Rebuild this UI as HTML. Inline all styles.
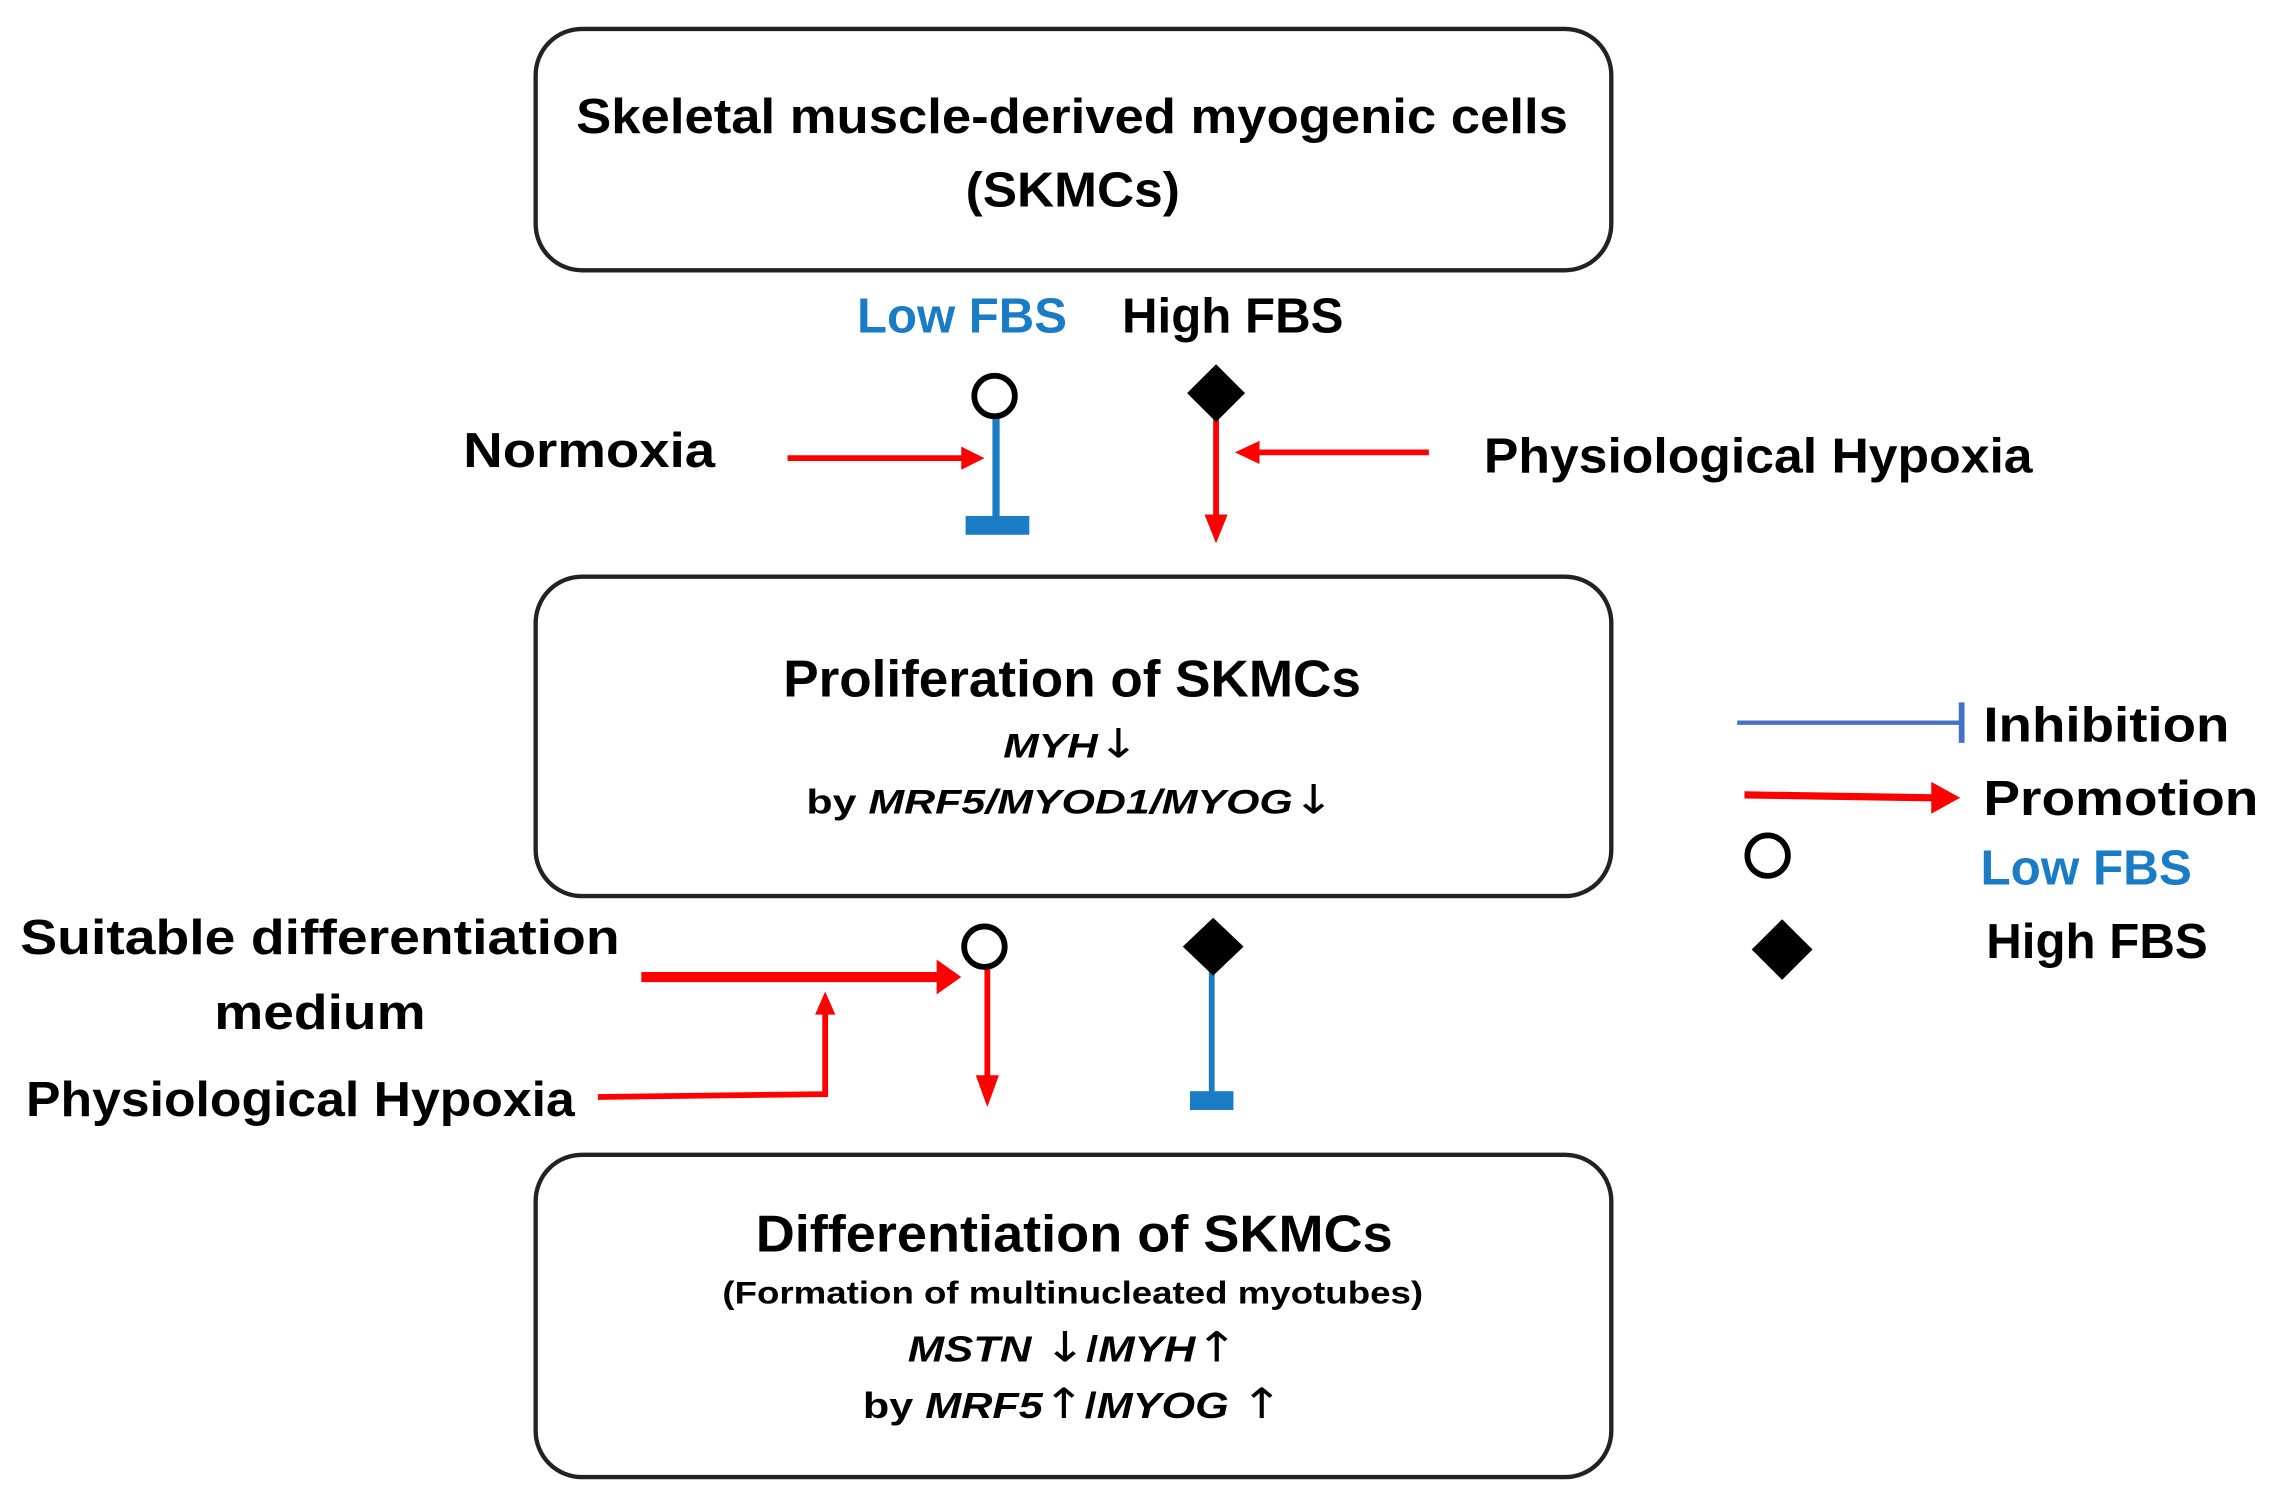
<!DOCTYPE html>
<html><head><meta charset="utf-8"><style>
html,body{margin:0;padding:0;background:#fff;}
svg{display:block;}
text{font-family:"Liberation Sans",sans-serif;font-weight:bold;fill:#000;}
.ar{font-family:"DejaVu Sans",sans-serif;font-weight:normal;font-style:normal;}
</style></head><body>
<svg width="2270" height="1506" viewBox="0 0 1568 1042" preserveAspectRatio="none" xmlns="http://www.w3.org/2000/svg">
<!-- boxes -->
<rect x="370" y="20" width="743" height="167" rx="32" fill="#fff" stroke="#222" stroke-width="3"/>
<rect x="370" y="399" width="743" height="221" rx="32" fill="#fff" stroke="#222" stroke-width="3"/>
<rect x="370" y="799" width="743" height="223" rx="32" fill="#fff" stroke="#222" stroke-width="3"/>

<text x="398" y="92" font-size="34" textLength="685" lengthAdjust="spacingAndGlyphs">Skeletal muscle-derived myogenic cells</text>
<text x="667" y="143" font-size="34" textLength="148" lengthAdjust="spacingAndGlyphs">(SKMCs)</text>

<text x="592" y="230" font-size="34" style="fill:#1a7cc4" textLength="145" lengthAdjust="spacingAndGlyphs">Low FBS</text>
<text x="775" y="230" font-size="34" textLength="153" lengthAdjust="spacingAndGlyphs">High FBS</text>

<!-- top left -->
<line x1="688" y1="288" x2="688" y2="362" stroke="#1a7cc4" stroke-width="5"/>
<rect x="667" y="357" width="44" height="13" fill="#1a7cc4"/>
<circle cx="687" cy="274" r="14" fill="#fff" stroke="#000" stroke-width="4"/>
<text x="320" y="323" font-size="34" textLength="174" lengthAdjust="spacingAndGlyphs">Normoxia</text>
<line x1="544" y1="317" x2="666" y2="317" stroke="#ff0000" stroke-width="4"/>
<path d="M680,317 L664,309 L664,325 z" fill="#ff0000"/>

<!-- top right -->
<line x1="840" y1="290" x2="840" y2="358" stroke="#ff0000" stroke-width="4"/>
<path d="M840,376 L832,356 L848,356 z" fill="#ff0000"/>
<path d="M840,252 L860,272 L840,292 L820,272 z" fill="#000"/>
<line x1="987" y1="313" x2="868" y2="313" stroke="#ff0000" stroke-width="4"/>
<path d="M853,313 L870,305 L870,321 z" fill="#ff0000"/>
<text x="1025" y="327" font-size="34" textLength="379" lengthAdjust="spacingAndGlyphs">Physiological Hypoxia</text>

<!-- box2 text -->
<text x="541" y="482" font-size="36" textLength="399" lengthAdjust="spacingAndGlyphs">Proliferation of SKMCs</text>
<text x="693" y="524" font-size="24" textLength="94" lengthAdjust="spacingAndGlyphs"><tspan font-style="italic">MYH</tspan><tspan class="ar" font-size="28">↓</tspan></text>
<text x="557" y="563" font-size="24" textLength="365" lengthAdjust="spacingAndGlyphs">by <tspan font-style="italic">MRF5/MYOD1/MYOG</tspan><tspan class="ar" font-size="28">↓</tspan></text>

<!-- legend -->
<line x1="1200" y1="500" x2="1355" y2="500" stroke="#4472c4" stroke-width="3"/>
<line x1="1355" y1="486" x2="1355" y2="514" stroke="#4472c4" stroke-width="4"/>
<text x="1370" y="513" font-size="34" textLength="170" lengthAdjust="spacingAndGlyphs">Inhibition</text>
<line x1="1205" y1="550" x2="1336" y2="552" stroke="#ff0000" stroke-width="5"/>
<path d="M1354,552 L1334,541 L1334,563 z" fill="#ff0000"/>
<text x="1370" y="564" font-size="34" textLength="190" lengthAdjust="spacingAndGlyphs">Promotion</text>
<circle cx="1221" cy="592" r="14" fill="#fff" stroke="#000" stroke-width="4"/>
<text x="1368" y="612" font-size="34" style="fill:#1a7cc4" textLength="146" lengthAdjust="spacingAndGlyphs">Low FBS</text>
<path d="M1231,636 L1252,657 L1231,678 L1210,657 z" fill="#000"/>
<text x="1372" y="663" font-size="34" textLength="153" lengthAdjust="spacingAndGlyphs">High FBS</text>

<!-- bottom left -->
<text x="14" y="660" font-size="34" textLength="414" lengthAdjust="spacingAndGlyphs">Suitable differentiation</text>
<text x="148" y="712" font-size="34" textLength="146" lengthAdjust="spacingAndGlyphs">medium</text>
<text x="18" y="772" font-size="34" textLength="379" lengthAdjust="spacingAndGlyphs">Physiological Hypoxia</text>
<line x1="443" y1="676" x2="650" y2="676" stroke="#ff0000" stroke-width="7"/>
<path d="M664,676 L647,664 L647,688 z" fill="#ff0000"/>
<polyline points="413,759 570,757 570,700" fill="none" stroke="#ff0000" stroke-width="4"/>
<path d="M570,686 L577,702 L563,702 z" fill="#ff0000"/>
<line x1="682" y1="668" x2="682" y2="748" stroke="#ff0000" stroke-width="4"/>
<path d="M682,766 L674,744 L690,744 z" fill="#ff0000"/>
<circle cx="680" cy="655" r="14" fill="#fff" stroke="#000" stroke-width="4"/>
<line x1="837" y1="670" x2="837" y2="760" stroke="#1a7cc4" stroke-width="4"/>
<rect x="822" y="755" width="30" height="13" fill="#1a7cc4"/>
<path d="M838,635 L859,655 L838,675 L817,655 z" fill="#000"/>

<!-- box3 text -->
<text x="522" y="866" font-size="36" textLength="440" lengthAdjust="spacingAndGlyphs">Differentiation of SKMCs</text>
<text x="499" y="902" font-size="22" textLength="484" lengthAdjust="spacingAndGlyphs">(Formation of multinucleated myotubes)</text>
<text x="627" y="942" font-size="25" textLength="228" lengthAdjust="spacingAndGlyphs"><tspan font-style="italic">MSTN </tspan><tspan class="ar" font-size="29">↓</tspan>/<tspan font-style="italic">MYH</tspan><tspan class="ar" font-size="29">↑</tspan></text>
<text x="596" y="981" font-size="25" textLength="290" lengthAdjust="spacingAndGlyphs">by <tspan font-style="italic">MRF5</tspan><tspan class="ar" font-size="29">↑</tspan>/<tspan font-style="italic">MYOG </tspan><tspan class="ar" font-size="29">↑</tspan></text>
</svg>
</body></html>
